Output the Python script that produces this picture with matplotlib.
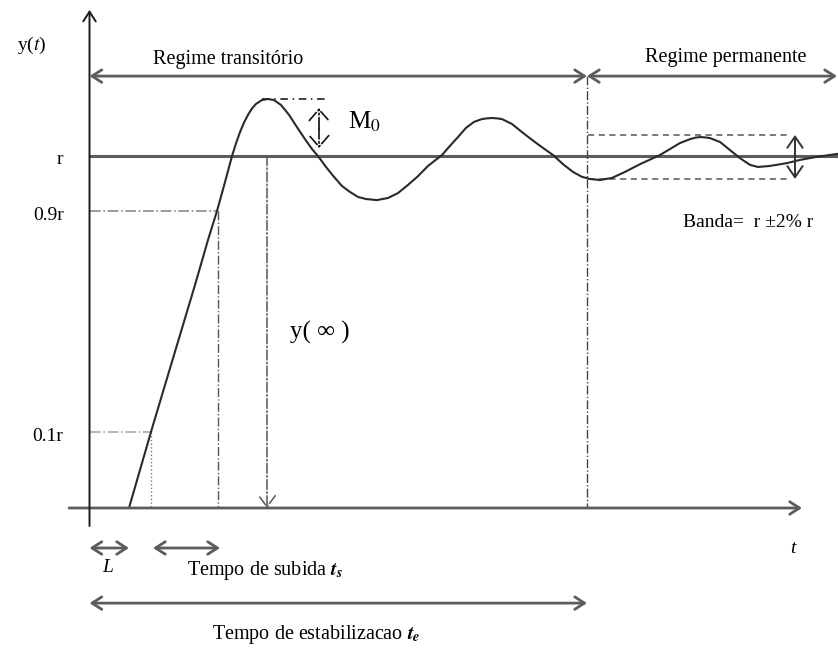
import matplotlib
matplotlib.use("Agg")
import matplotlib.pyplot as plt

# ---- data (t in arbitrary time units, y in units of r) ----
curve_t = [0.395, 0.505, 0.615, 0.755, 0.905, 1.055, 1.185, 1.275, 1.355, 1.425,
           1.465, 1.505, 1.545, 1.585, 1.625, 1.665, 1.725, 1.785, 1.845, 1.915,
           1.995, 2.075, 2.155, 2.225, 2.285, 2.365, 2.445, 2.525, 2.605, 2.685,
           2.765, 2.875, 2.985, 3.085, 3.185, 3.285, 3.385, 3.525, 3.605, 3.685,
           3.765, 3.845, 3.925, 3.975, 4.025, 4.075, 4.125, 4.225, 4.325, 4.425,
           4.535, 4.635, 4.735, 4.835, 4.925, 5.005, 5.105, 5.225, 5.355, 5.505,
           5.705, 5.805, 5.905, 6.005, 6.055, 6.105, 6.155, 6.205, 6.305, 6.405,
           6.505, 6.605, 6.685, 6.805, 6.975, 7.105, 7.255, 7.475]
curve_y = [0.000, 0.108, 0.216, 0.349, 0.491, 0.633, 0.761, 0.843, 0.925, 0.999,
           1.035, 1.067, 1.094, 1.116, 1.134, 1.147, 1.158, 1.161, 1.158, 1.144,
           1.116, 1.081, 1.047, 1.019, 0.999, 0.968, 0.940, 0.914, 0.897, 0.883,
           0.877, 0.874, 0.880, 0.894, 0.917, 0.942, 0.971, 1.002, 1.028, 1.053,
           1.079, 1.096, 1.104, 1.106, 1.107, 1.106, 1.104, 1.090, 1.067, 1.045,
           1.022, 1.002, 0.976, 0.954, 0.940, 0.934, 0.931, 0.937, 0.954, 0.976,
           1.002, 1.019, 1.036, 1.047, 1.051, 1.053, 1.052, 1.050, 1.039, 1.016,
           0.993, 0.974, 0.968, 0.971, 0.979, 0.988, 0.996, 1.005]

level_labels = ["r", "0.9r", "0.1r"]
level_values = [1.0, 0.843, 0.216]
t_delay = 0.395      # L
t_10 = 0.615         # curve reaches 0.1r
t_90 = 1.28          # curve reaches 0.9r
t_peak = 1.775
y_peak = 1.161
t_settle = 4.975
band_upper = 1.059
band_lower = 0.934
t_end = 7.475

# ---- figure ----
plt.rcParams["mathtext.fontset"] = "stix"
fig = plt.figure(figsize=(8.38, 6.48), dpi=100)
ax = fig.add_axes([0, 0, 1, 1])
ax.set_xlim(-0.895, 7.485)
ax.set_ylim(-0.3974, 1.442)
ax.axis("off")

G = "#5c5c5c"
serif = "Liberation Serif"

def arrow(x0, y0, x1, y1, style, color=G, lw=2.0, ls="-", hl=0.7, hw=0.45):
    ax.annotate("", xy=(x1, y1), xytext=(x0, y0),
                arrowprops=dict(arrowstyle=f"{style},head_length={hl},head_width={hw}",
                                color=color, lw=lw, ls=ls, shrinkA=0, shrinkB=0))

# axes
arrow(-0.205, 0, 7.125, 0, "->")
arrow(0, -0.051, 0, 1.414, "->", color="#1a1a1a", lw=1.4)

# reference r line
ax.plot([0, t_end], [level_values[0], level_values[0]], color=G, lw=2.2)

# 0.9r and 0.1r guides
ax.plot([0, t_90], [level_values[1]] * 2, color="#8a8a8a", lw=1.2, ls="-.")
ax.plot([t_90, t_90], [level_values[1], 0], color="#555555", lw=1.0, ls="-.")
ax.plot([0, t_10], [level_values[2]] * 2, color="#aaaaaa", lw=1.2, ls="-.")
ax.plot([t_10, t_10], [level_values[2], 0], color="#777777", lw=1.0, ls=":")

# peak guide and M0 arrow
ax.plot([t_peak - 0.05, 2.385], [y_peak, y_peak], color="#111111", lw=1.1,
        ls=(0, (5, 3, 1, 3)))
arrow(2.295, 1.078, 2.295, 1.135, "->", color="#111111", lw=1.2, ls="-.", hl=0.8, hw=0.7)
arrow(2.295, 1.078, 2.295, 1.022, "->", color="#111111", lw=1.2, ls="-.", hl=0.8, hw=0.7)

# y(inf) arrow
arrow(t_peak, 1.0, t_peak, 0.0, "->", color="#555555", lw=1.1, ls="-.", hl=0.8, hw=0.6)

# settling vertical
ax.plot([t_settle, t_settle], [1.226, 0], color="#444444", lw=1.0, ls="-.")

# band
ax.plot([t_settle + 0.01, 6.975], [band_upper] * 2, color="#555555", lw=1.1, ls=(0, (4, 3)))
ax.plot([t_settle + 0.01, 6.975], [band_lower] * 2, color="#555555", lw=1.1, ls=(0, (4, 3)))
arrow(7.055, band_lower, 7.055, band_upper, "<->", color="#333333", lw=1.4, hl=0.8, hw=0.55)

# response curve
ax.plot(curve_t, curve_y, color="#2a2a2a", lw=1.5, solid_joinstyle="round")

# regime arrows
arrow(0, 1.226, t_settle, 1.226, "<->")
arrow(t_settle, 1.226, t_end, 1.226, "<->")

# time interval arrows
arrow(0, -0.1135, t_delay, -0.1135, "<->")
arrow(0.635, -0.1135, 1.305, -0.1135, "<->")
arrow(0, -0.270, t_settle, -0.270, "<->")

# texts
fs = 14
ax.text(-0.575, 1.314, r"y($\mathit{t}$)", fontsize=fs, family=serif,
        ha="center", va="center")
for lab, val in zip(level_labels, level_values):
    ax.text(-0.26, val - 0.012, lab, fontsize=fs, family=serif, ha="right", va="center")
ax.text(1.385, 1.272, "Regime transitório", fontsize=14.5, family=serif,
        ha="center", va="center")
ax.text(6.365, 1.28, "Regime permanente", fontsize=14.5, family=serif,
        ha="center", va="center")
ax.text(2.585, 1.096, r"M$_0$", fontsize=18, family=serif, ha="left", va="center")
ax.text(2.005, 0.497, "y( \u221e )", fontsize=18, family=serif, ha="left", va="center")
ax.text(5.935, 0.809, "Banda=  r \u00b12% r", fontsize=14, family=serif,
        ha="left", va="center")
ax.text(7.035, -0.116, "t", fontsize=fs, family=serif, style="italic",
        ha="center", va="center")
ax.text(0.185, -0.170, "L", fontsize=fs, family=serif, style="italic",
        ha="center", va="center")
ax.text(0.975, -0.176, r"Tempo de subida $\mathbfit{t}_{\mathbfit{s}}$", fontsize=14.5,
        family=serif, ha="left", va="center")
ax.text(1.225, -0.358, r"Tempo de estabilizacao $\mathbfit{t}_{\mathbfit{e}}$",
        fontsize=14.5, family=serif, ha="left", va="center")

fig.savefig("out.png", dpi=100)
